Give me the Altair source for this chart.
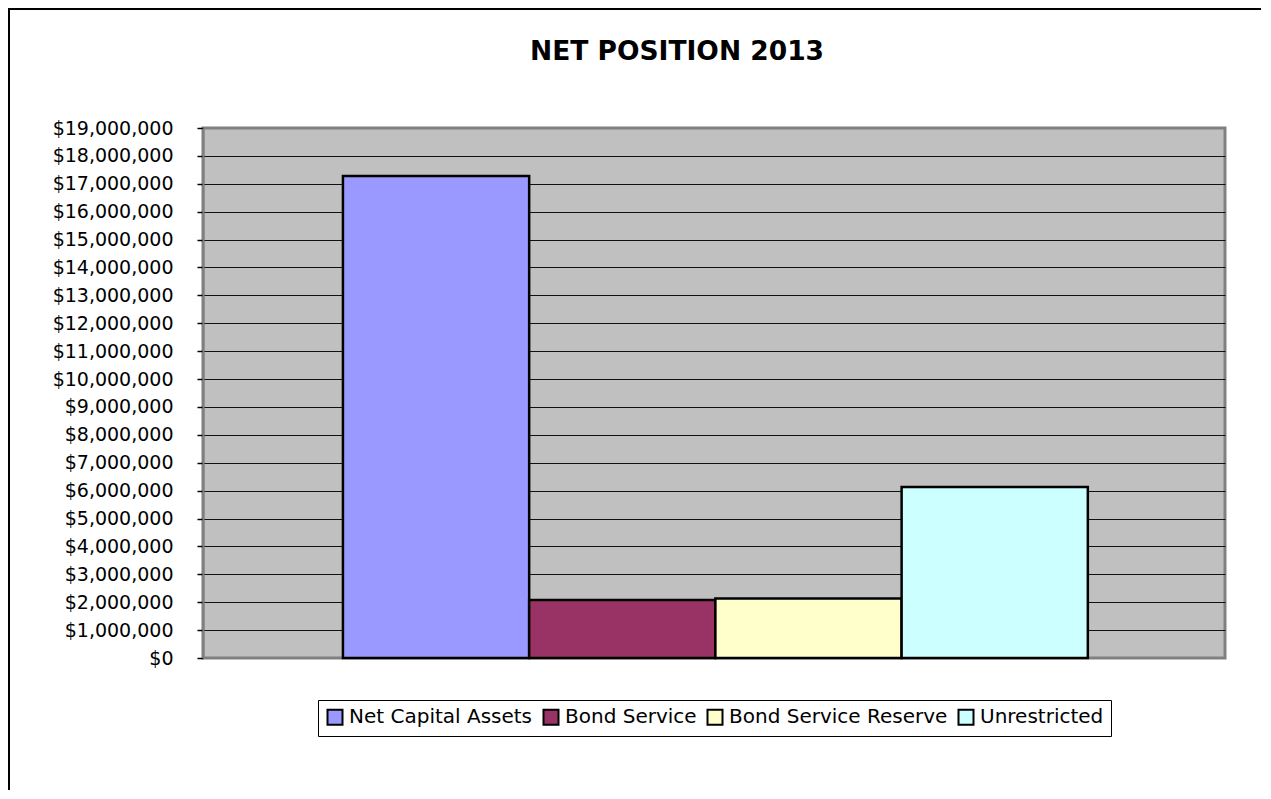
import altair as alt
import pandas as pd

series = ["Net Capital Assets", "Bond Service", "Bond Service Reserve", "Unrestricted"]
values = [17280000, 2080000, 2130000, 6130000]
colors = ["#9999FF", "#993366", "#FFFFCC", "#CCFFFF"]
y_ticks = [0, 1000000, 2000000, 3000000, 4000000, 5000000, 6000000, 7000000,
           8000000, 9000000, 10000000, 11000000, 12000000, 13000000, 14000000,
           15000000, 16000000, 17000000, 18000000, 19000000]
title_text = "NET POSITION 2013"

df = pd.DataFrame({"series": series, "value": values})
frame_df = pd.DataFrame({"k": [0]})

bars = alt.Chart(df).mark_bar(stroke="black", strokeWidth=2.5, opacity=1).encode(
    x=alt.X("series:N", sort=series, axis=None,
            scale=alt.Scale(paddingInner=0, paddingOuter=0.744, align=0.505)),
    y=alt.Y("value:Q",
            scale=alt.Scale(domain=[0, 19000000], nice=False, zero=True),
            axis=alt.Axis(values=y_ticks, format="$,.0f", title=None,
                          labelFont="DejaVu Sans", labelFontSize=19, labelColor="black",
                          tickColor="black", tickSize=6, tickWidth=1.5,
                          domainColor="#808080", domainWidth=2,
                          labelPadding=24, grid=True,
                          gridColor={"condition": {"test": "datum.value === 0 || datum.value === 19000000",
                                                   "value": "#808080"},
                                     "value": "#111111"},
                          gridWidth=1.2)),
    color=alt.Color("series:N", sort=series,
                    scale=alt.Scale(domain=series, range=colors),
                    legend=alt.Legend(title=None, orient="none", legendX=115, legendY=572,
                                      direction="horizontal", columns=4,
                                      symbolType="square", symbolSize=225,
                                      symbolStrokeColor="black", symbolStrokeWidth=2,
                                      symbolOpacity=1,
                                      labelFont="DejaVu Sans", labelFontSize=20,
                                      labelColor="black", labelOffset=4,
                                      columnPadding=6, strokeColor="black",
                                      padding=7, fillColor="white", labelLimit=400)),
)

title = alt.Chart(frame_df).mark_text(
    text=title_text, font="DejaVu Sans", fontSize=26.5, fontWeight="bold",
    color="black", align="center", baseline="alphabetic"
).encode(x=alt.value(474), y=alt.value(-68))

frame_left = alt.Chart(frame_df).mark_rule(color="black", strokeWidth=2).encode(
    x=alt.value(-194), y=alt.value(-120), y2=alt.value(700))
frame_top = alt.Chart(frame_df).mark_rule(color="black", strokeWidth=2).encode(
    y=alt.value(-119), x=alt.value(-195), x2=alt.value(1070))

chart = alt.layer(frame_left, frame_top, title, bars).properties(
    width=1022, height=530,
    padding={"left": 195, "top": 120, "right": 36, "bottom": 132},
    autosize=alt.AutoSizeParams(type="none"),
    background="white",
).configure_view(
    fill="#C0C0C0", stroke="#808080", strokeWidth=3
)

chart.save("out.html", embed_options={"renderer": "svg", "actions": False})
